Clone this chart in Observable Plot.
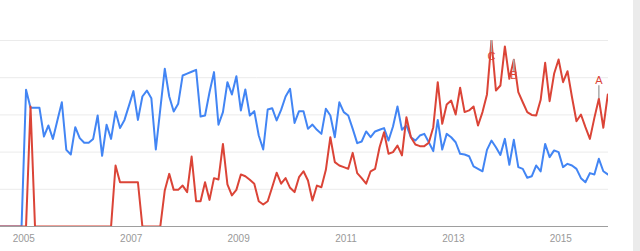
<!DOCTYPE html>
<html>
<head>
<meta charset="utf-8">
<script src="https://cdn.jsdelivr.net/npm/d3@7"></script>
<script src="https://cdn.jsdelivr.net/npm/@observablehq/plot@0.6"></script>
<style>
  html, body { margin: 0; padding: 0; background: #fff; }
  #wrap { position: relative; width: 640px; height: 251px; overflow: hidden; }
  #strip { position: absolute; right: 0; top: 0; width: 7px; height: 251px; background: #ebebeb; }
</style>
</head>
<body>
<div id="wrap"><div id="chart"></div><div id="strip"></div></div>
<script>
// Monthly series, Jul 2004 .. Nov 2015
const startYear = 2004, startMonth = 6; // July 2004 (0-based month)
const blueValues = [
  0,0,0,0,0,0,
  73.5,63.8,63.8,63.8,48.4,54.3,47.1,57,66.8,41.2,38.7,53.4,
  47.5,45,45,47.1,59.7,38,54.7,47.1,61.8,52.9,57.3,65,
  72.8,57.3,69.9,73.1,69,41.4,63.1,84.8,69.9,61.8,66,81.2,
  82.2,83.2,84.2,59.1,59.7,72.2,83,54.7,61.5,77.6,71,80.8,
  62.4,73.7,59.7,62,48.9,41.4,62.9,63.6,57,62.7,69.9,74,
  55.7,62,62,52.5,54.8,52,49.8,63.3,59.7,48,66.8,61.5,
  59.7,52.5,44.8,45.7,51.1,48,51.1,52,52.9,46.2,53.8,64.5,
  52,54.3,48,46.2,48.9,49.8,45.3,40.5,57.3,41.4,49.8,48,
  45.3,39.1,38.7,37.8,32.3,31,29.7,41.2,46.2,42.6,38.5,47.1,
  33.2,46.6,31.9,31,26.2,27,32.8,29.6,44.4,37.3,40.9,40,
  31.9,33.7,32.8,31,26,23.8,28.7,28,36.4,29.7,28
];
const redValues = [
  0,0,0,0,0,0,
  0,64.5,0,0,0,0,0,0,0,0,0,0,
  0,0,0,0,0,0,0,0,32.8,23.8,23.8,23.8,
  23.8,23.8,0,0,0,0,0,19.4,28.3,19.7,19.7,22,
  18.5,37.6,13.6,13.6,23.8,14.3,26,25.3,44.4,22.6,16.7,19.7,
  28,27,25.1,23,13.6,11.8,13.6,21.1,28.9,23,26,20.8,
  18.5,26.5,29.7,24.7,14,22,21.1,30.5,48,34.6,32.8,31.9,
  31,39.6,28.7,26,23,29.7,31,42.6,50.7,39.1,40,43.5,
  38.2,58.8,48,44.1,43.2,43.2,45,53.4,77.6,55.2,65.6,67.7,
  60.2,74.6,61.5,62.4,64.5,54.3,61.5,71,100,73.1,75.8,96.8,
  79.4,89.6,72.2,66.8,61.5,60,59.7,68.1,88,67.4,82.1,89.8,
  77.6,83.5,69.5,56.6,60.2,53.4,47.1,58.4,68.7,53.1,71
];
const yearTicks = [2005, 2007, 2009, 2011, 2013, 2015];
const gridValues = [20, 40, 60, 80, 100];
const annotLetters = ["C", "B", "A"];
const annotIndex = [110, 115, 134]; // positions in the series (Jul 2004 = 0)
const annotSide = [1, 1, -1];       // 1: flag below point, -1: above

const t = i => startYear + (startMonth + i + 0.5) / 12;
const blue = blueValues.map((v, i) => ({t: t(i), v}));
const red = redValues.map((v, i) => ({t: t(i), v}));
const annots = annotLetters.map((L, k) => ({
  letter: L, t: t(annotIndex[k]), v: redValues[annotIndex[k]], side: annotSide[k]
}));

const blueColor = "#4285f4", redColor = "#db4437";

const chart = Plot.plot({
  width: 640,
  height: 251,
  marginLeft: 0,
  marginRight: 32,
  marginTop: 40,
  marginBottom: 25,
  style: {color: "#999", fontFamily: "Arial, 'Liberation Sans', sans-serif", fontSize: "10px", background: "transparent"},
  x: {type: "linear", domain: [2004.566, 2015.888], label: null},
  y: {domain: [0, 100], axis: null, label: null},
  marks: [
    Plot.ruleY(gridValues, {stroke: "#ebebeb", strokeWidth: 1}),
    Plot.ruleY([0], {stroke: "#9e9e9e", strokeWidth: 1.2}),
    Plot.axisX({ticks: yearTicks, tickSize: 0, tickPadding: 8, tickFormat: d => String(d), label: null}),
    Plot.line(blue, {x: "t", y: "v", stroke: blueColor, strokeWidth: 2, clip: true}),
    Plot.line(red, {x: "t", y: "v", stroke: redColor, strokeWidth: 2, clip: true}),
    Plot.ruleX(annots.filter(d => d.side < 0), {x: "t", y1: "v", y2: d => d.v + 7, stroke: "#aaa", strokeWidth: 1.5}),
    Plot.ruleX(annots.filter(d => d.side > 0), {x: "t", y1: "v", y2: d => d.v - 7, stroke: "#aaa", strokeWidth: 1.5}),
    Plot.text(annots.filter(d => d.side < 0), {x: "t", y: "v", text: "letter", dy: -18, fill: redColor, fontSize: 11}),
    Plot.text(annots.filter(d => d.side > 0), {x: "t", y: "v", text: "letter", dy: 16, fill: redColor, fontSize: 11})
  ]
});
document.getElementById("chart").appendChild(chart);
</script>
</body>
</html>
